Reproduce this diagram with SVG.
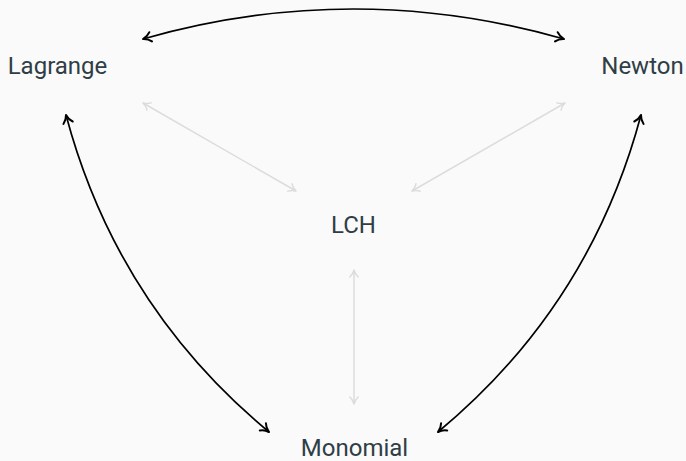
<svg xmlns="http://www.w3.org/2000/svg" width="686" height="461" viewBox="0 0 686 461">
  <style>
    .lbl { font-family: Roboto, "Liberation Sans", sans-serif; font-size: 24px; fill: #2f3e46; text-anchor: middle; }
    .dark { fill: none; stroke: #000; stroke-width: 1.7; }
    .light { fill: none; stroke: #dcdcdc; stroke-width: 1.5; }
  </style>
  <defs>
    <marker id="ah" markerUnits="userSpaceOnUse" viewBox="-10 -6 12 12" refX="0" refY="0" markerWidth="12" markerHeight="12" orient="auto-start-reverse" overflow="visible">
      <path d="M-8,-4.8 C-5.5,-1.8 -2.5,-0.6 0,0 C-2.5,0.6 -5.5,1.8 -8,4.8" fill="none" stroke="#000" stroke-width="2" stroke-linecap="round" stroke-linejoin="round"/>
    </marker>
    <marker id="ahl" markerUnits="userSpaceOnUse" viewBox="-10 -6 12 12" refX="0" refY="0" markerWidth="12" markerHeight="12" orient="auto-start-reverse" overflow="visible">
      <path d="M-7,-4.2 C-4.8,-1.6 -2.2,-0.5 0,0 C-2.2,0.5 -4.8,1.6 -7,4.2" fill="none" stroke="#dcdcdc" stroke-width="1.5" stroke-linecap="round" stroke-linejoin="round"/>
    </marker>
  </defs>
  <rect x="0" y="0" width="686" height="461" fill="#fafafa"/>
  <g id="connectors">
    <path class="dark" d="M143,39 Q353.5,-21 564,39" marker-start="url(#ah)" marker-end="url(#ah)"/>
    <path class="dark" d="M66,115 Q117,306 269,432" marker-start="url(#ah)" marker-end="url(#ah)"/>
    <path class="dark" d="M641,115 Q590,306 438,432" marker-start="url(#ah)" marker-end="url(#ah)"/>
    <path class="light" d="M143,103 L296,191" marker-start="url(#ahl)" marker-end="url(#ahl)"/>
    <path class="light" d="M565,103 L412,191" marker-start="url(#ahl)" marker-end="url(#ahl)"/>
    <path class="light" d="M354,270 L354,404" marker-start="url(#ahl)" marker-end="url(#ahl)"/>
  </g>
  <g id="lagrange"><text class="lbl" x="57.5" y="74">Lagrange</text></g>
  <g id="newton"><text class="lbl" x="642.5" y="74">Newton</text></g>
  <g id="lch"><text class="lbl" x="353.5" y="233">LCH</text></g>
  <g id="monomial"><text class="lbl" x="354.5" y="456">Monomial</text></g>
</svg>
